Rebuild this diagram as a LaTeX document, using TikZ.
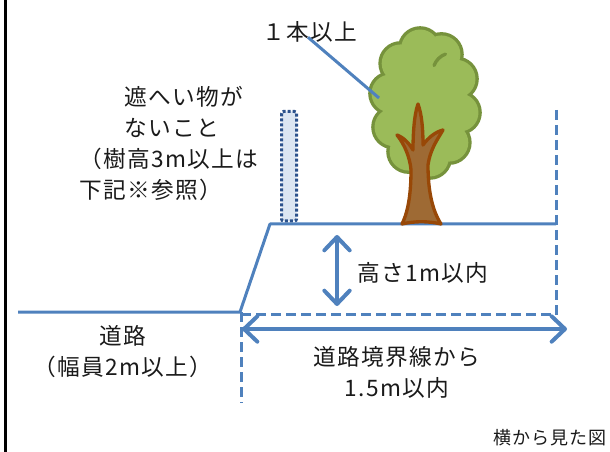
\documentclass[tikz,border=0pt]{standalone}
\usepackage{fontspec}
\setmainfont{Noto Sans CJK JP}[LetterSpace=6]
\usetikzlibrary{arrows.meta}

\definecolor{lineblue}{RGB}{79,129,189}
\definecolor{screenfill}{RGB}{220,230,242}
\definecolor{screenedge}{RGB}{44,82,140}
\definecolor{leafgreen}{RGB}{155,187,89}
\definecolor{leafedge}{RGB}{118,146,60}
\definecolor{barkfill}{RGB}{158,106,52}
\definecolor{barkedge}{RGB}{152,72,7}

\tikzset{every picture/.style={line width=0.75pt}}
\tikzset{
  groundline/.style={color=lineblue, line width=2.25pt},
  limitline/.style={color=lineblue, line width=2.25pt, dash pattern={on 7.5pt off 3.75pt}},
  dimarrow/.style={color=lineblue, line width=3pt,
    {Straight Barb[length=10pt,width=19pt,line cap=round,line join=round]}-{Straight Barb[length=10pt,width=19pt,line cap=round,line join=round]}},
  screenbox/.style={draw=screenedge, fill=screenfill, line width=2.25pt, dash pattern={on 2.25pt off 1.5pt}, rounded corners=1.5pt},
  jtext/.style={font=\fontsize{17}{23.25}\selectfont, text={rgb,255:red,26;green,26;blue,26}, inner sep=0.75pt}
}

\begin{document}
\begin{tikzpicture}[x=0.75pt,y=0.75pt,yscale=-1,xscale=1]
\path[use as bounding box] (0,0) rectangle (610,452);

%Frame line on the left
\draw [line width=1.7pt]  (5.5,0) -- (5.5,452) ;

%Road, slope and raised ground
\draw [groundline, line join=round]  (18,312) -- (240,312) -- (270,224) -- (556,224) ;
%Boundary zone (dashed)
\draw [limitline]  (241,314) -- (556,314) ;
\draw [limitline]  (556,110) -- (556,316) ;
\draw [limitline]  (241,312) -- (241,403) ;

%Screening object
\draw [screenbox]  (281.5,111.5) rectangle (296.5,221) ;

%Tree canopy: ring of bumps, outline pass then fill pass
\foreach \a in {10,46,...,334}
  \draw [leafedge, line width=5pt]  ({425+35*cos(\a)},{103+55*sin(\a)}) circle (19) ;
\foreach \a in {10,46,...,334}
  \fill [leafgreen]  ({425+35*cos(\a)},{103+55*sin(\a)}) circle (19) ;
\fill [leafgreen]  (425,103) ellipse (36 and 56) ;
\draw [leafedge, line width=2.5pt, line cap=round]  (434.1,65.5) arc [start angle=200, end angle=250, radius=19] ;

%Tree trunk
\draw [barkedge, fill=barkfill, line width=2.5pt, line join=round]
  (402,224) .. controls (409,210) and (411,190) .. (411,170)
  .. controls (410,158) and (405,145) .. (397,135)
  .. controls (405,138) and (410,145) .. (413,150)
  .. controls (413,135) and (414,115) .. (418,104)
  .. controls (422,115) and (423,130) .. (423,145)
  .. controls (428,138) and (435,132) .. (443,130)
  .. controls (437,140) and (430,150) .. (428,165)
  .. controls (428,190) and (432,210) .. (441,224)
  .. controls (428,221) and (415,221) .. cycle ;

%Labels
\node [jtext] (treelabel) at (310,32) {１本以上};
\coordinate (leaftip) at (379,98);
\draw [groundline]  ([xshift=-1.5pt,yshift=-5pt]treelabel.south) -- (leaftip) ;

\node [jtext, anchor=west, align=left] (screenlabel) at (78,143.5)
  {\hspace*{2em}遮へい物が\\\hspace*{2em}ないこと\\（樹高3m以上は\\下記※参照）};

\node [jtext, align=center] (roadlabel) at (123,352) {道路\\（幅員2m以上）};

%Height arrow
\coordinate (hightop) at (337,235);
\coordinate (highbot) at (337,306);
\draw [dimarrow]  (hightop) -- (highbot) ;
\node [jtext, anchor=west] (heightlabel) at (356,273) {高さ1m以内};

%Setback arrow
\coordinate (boundary) at (242,329);
\coordinate (reach) at (567,329);
\draw [dimarrow]  (boundary) -- (reach) ;
\node [jtext, align=center] (setbacklabel) at (397,372.5) {道路境界線から\\1.5m以内};

\node [jtext, font=\fontsize{13.5}{16}\selectfont, anchor=east] (viewlabel) at (608,438) {横から見た図};

\end{tikzpicture}
\end{document}
